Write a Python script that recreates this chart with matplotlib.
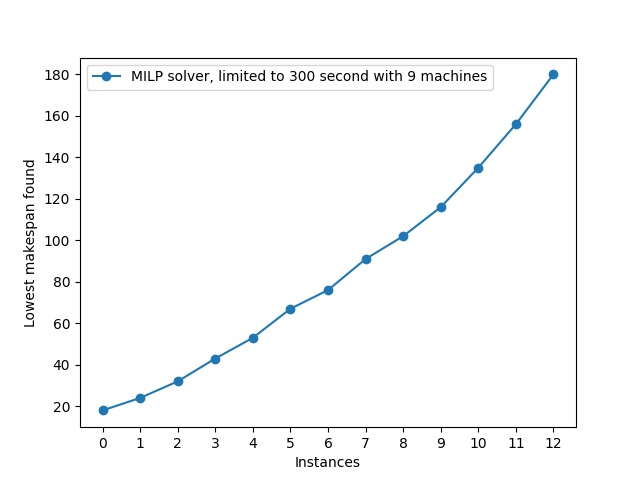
import matplotlib
matplotlib.use("Agg")
import matplotlib.pyplot as plt

instances = list(range(13))
makespan = [18, 24, 32, 43, 53, 67, 76, 91, 102, 116, 135, 156, 180]

plt.figure(figsize=(6.4, 4.8), dpi=100)
plt.plot(instances, makespan, marker="o",
         label="MILP solver, limited to 300 second with 9 machines")
plt.xticks(instances)
plt.xlabel("Instances")
plt.ylabel("Lowest makespan found")
plt.legend(loc="upper left")
plt.savefig("out.png")
